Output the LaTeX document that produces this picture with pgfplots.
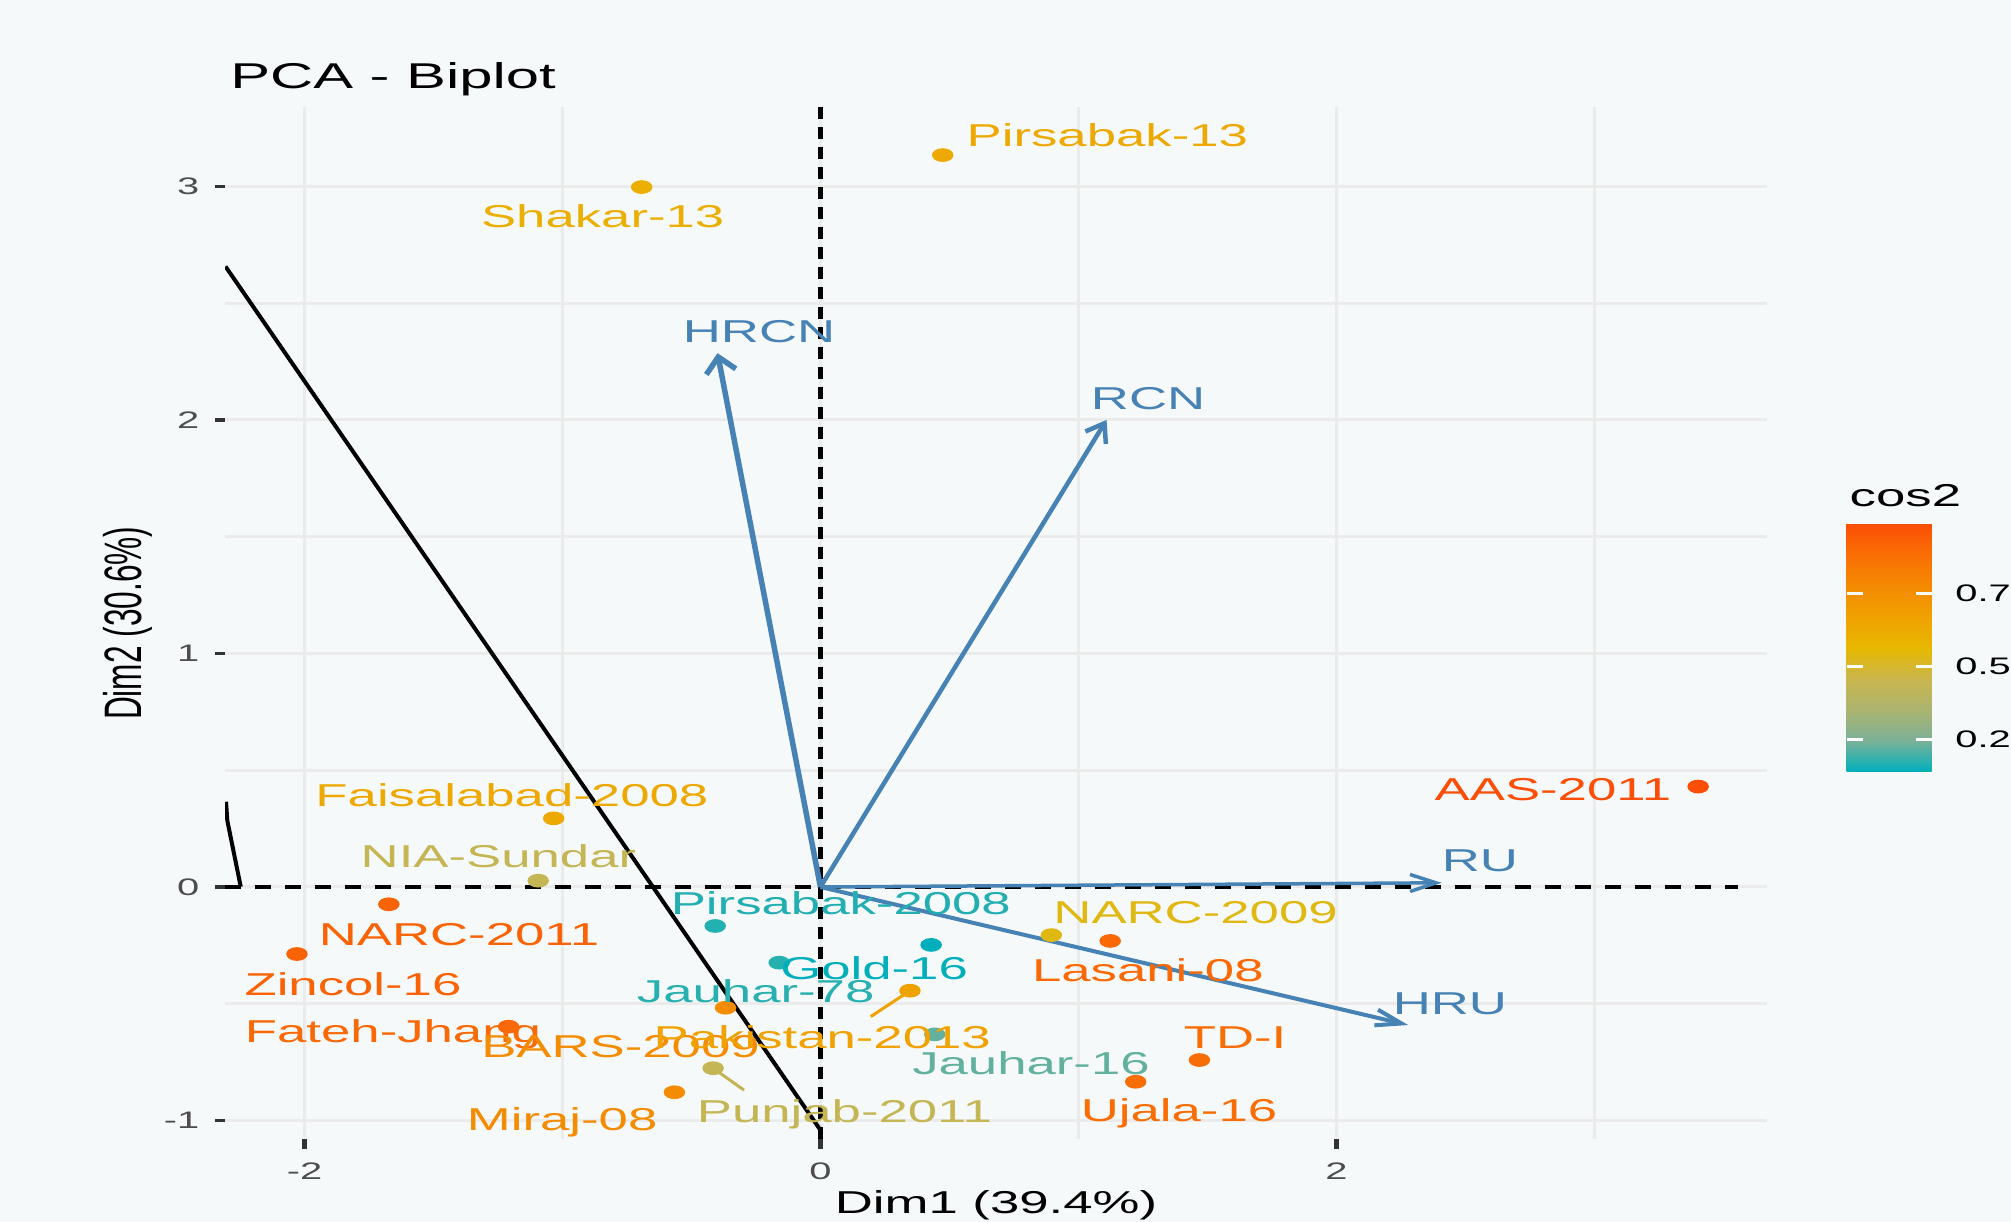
\documentclass[border=0pt]{standalone}
\usepackage{pgfplots}
\pgfplotsset{compat=1.18}
\usepackage{pgfplotstable}
\usepackage{fontspec}
\setmainfont{Liberation Sans}[FakeStretch=1.667]
\newfontfamily\ylabfont{Liberation Sans}[FakeStretch=0.6]
\usetikzlibrary{arrows.meta}
\definecolor{bgcol}{RGB}{246,249,250}
\definecolor{gridcol}{RGB}{235,235,235}
\definecolor{tickcol}{RGB}{51,51,51}
\definecolor{ticklab}{RGB}{77,77,77}
\definecolor{arrowcol}{RGB}{70,130,180}
\definecolor{pakcol}{RGB}{240,162,1}
\definecolor{punjcol}{RGB}{196,181,84}
\newcommand\labfont{\fontsize{9pt}{10pt}\selectfont}
\newcommand\titlefont{\fontsize{10.2pt}{12pt}\selectfont}
\newcommand\axtitlefont{\fontsize{9pt}{10pt}\selectfont}
\newcommand\ticklabfont{\fontsize{6.8pt}{8pt}\selectfont}

% x, y: individual coordinates; lx, ly: label position; c: cos2; cm: cos2 rescaled to 0..1000
\pgfplotstableread{
x y lx ly c cm name
0.474 3.134 1.112 3.221 0.631 580.2 Pirsabak-13
-0.693 2.997 -0.844 2.872 0.605 549.5 Shakar-13
-1.034 0.294 -1.196 0.391 0.631 580.2 Faisalabad-2008
-1.094 0.027 -1.248 0.130 0.436 350.2 NIA-Sundar
-1.673 -0.074 -1.401 -0.202 0.919 919.8 NARC-2011
-2.029 -0.287 -1.812 -0.415 0.919 919.8 Zincol-16
-1.209 -0.598 -1.657 -0.616 0.902 899.8 Fateh-Jhang
-0.368 -0.517 -0.775 -0.680 0.767 740.6 BARS-2009
-0.566 -0.879 -1.001 -0.994 0.767 740.6 Miraj-08
-0.416 -0.776 0.093 -0.958 0.436 350.2 Punjab-2011
-0.408 -0.167 0.079 -0.069 0.169 35.4 Pirsabak-2008
-0.160 -0.324 -0.251 -0.447 0.173 40.1 Jauhar-78
0.429 -0.248 0.208 -0.347 0.139 0.0 Gold-16
0.347 -0.444 0.007 -0.645 0.665 620.3 Pakistan-2013
0.443 -0.631 0.816 -0.755 0.224 100.2 Jauhar-16
0.895 -0.206 1.454 -0.106 0.538 470.5 NARC-2009
1.123 -0.231 1.269 -0.355 0.902 899.8 Lasani-08
1.469 -0.741 1.607 -0.641 0.885 879.7 TD-I
1.222 -0.834 1.390 -0.957 0.885 879.7 Ujala-16
3.402 0.430 2.839 0.420 0.987 1000.0 AAS-2011
}\genotypes

\begin{document}
\begin{tikzpicture}
\fill[bgcol] (0,0) rectangle (20.11,12.22);
\begin{axis}[
  at={(2.25cm,0.83cm)}, anchor=south west,
  scale only axis, width=15.42cm, height=10.32cm,
  xmin=-2.308, xmax=3.669, ymin=-1.079, ymax=3.340,
  axis line style={draw=none},
  tick pos=left, tick align=outside,
  major tick length=0.1cm, minor tick length=0pt,
  xtick={-2,0,2}, xticklabels={-2,0,2},
  ytick={-1,0,1,2,3}, yticklabels={-1,0,1,2,3},
  minor xtick={-1,1,3}, minor ytick={-0.5,0.5,1.5,2.5},
  grid=both,
  major grid style={gridcol, line width=0.03cm},
  minor grid style={gridcol, line width=0.03cm},
  xtick style={tickcol, line width=0.05cm},
  ytick style={tickcol, line width=0.033cm},
  xticklabel style={font=\ticklabfont, text=ticklab, inner sep=0pt, anchor=north, yshift=-0.127cm},
  yticklabel style={font=\ticklabfont, text=ticklab, inner sep=0pt, anchor=east, xshift=-0.15cm},
  colormap={pcacos}{rgb255(0cm)=(0,175,187); rgb255(1cm)=(123,177,152); rgb255(2cm)=(171,180,112); rgb255(3cm)=(202,182,77); rgb255(4cm)=(231,184,0); rgb255(5cm)=(240,161,1); rgb255(6cm)=(244,138,2); rgb255(7cm)=(249,111,4); rgb255(8cm)=(252,78,7)},
  point meta min=0.139, point meta max=0.987,
  colorbar,
  colorbar/width=0.85cm,
  colorbar style={
    at={(parent axis.south east)}, anchor=south west,
    xshift=0.497cm, yshift=3.673cm,
    scale only axis, width=0.85cm, height=2.477cm,
    axis line style={draw=none},
    grid=none,
    ytick={0.25,0.5,0.75}, yticklabels={0.25,0.50,0.75},
    minor ytick={},
    ytick pos=both, yticklabel pos=right,
    tick align=inside, major tick length=0.16cm,
    ytick style={white, line width=0.033cm},
    yticklabel style={font=\ticklabfont, text=black, inner sep=0pt, anchor=west, xshift=0.23cm},
  },
]
% individuals
\addplot[scatter, only marks, mark=*, mark size=1.75pt, mark options={xscale=1.63},
  scatter/use mapped color={draw=mapped color, fill=mapped color},
  point meta=\thisrow{c}] table[x=x, y=y]{\genotypes};
% labels of individuals
\addplot[only marks, mark=none, point meta=explicit symbolic,
  visualization depends on={\thisrow{cm}\as\cmv},
  nodes near coords,
  every node near coord/.append style={font=\labfont, anchor=base, inner sep=0pt, yshift=-3.22pt,
    /utils/exec={\pgfplotscolormapdefinemappedcolor{\cmv}},
    text=mapped color}]
  table[x=lx, y=ly, meta=name]{\genotypes};
% repel segments
\addplot[pakcol, line width=0.03cm] coordinates {(0.195,-0.555) (0.347,-0.444)};
\addplot[punjcol, line width=0.03cm] coordinates {(-0.416,-0.776) (-0.296,-0.870)};
% reference lines
\addplot[black, line width=0.033cm, dash pattern=on 0.16cm off 0.14cm] coordinates {(-2.308,0) (3.556,0)};
\addplot[black, line width=0.05cm, dash pattern=on 0.117cm off 0.083cm] coordinates {(0,3.340) (0,-1.079)};
% variable arrows
\addplot[arrowcol, line width=0.055cm, -{Straight Barb[length=0.15cm,width=0.30cm]}] coordinates {(0,0) (-0.399,2.286)};
\addplot[arrowcol, line width=0.045cm, -{Straight Barb[length=0.17cm,width=0.24cm]}] coordinates {(0,0) (1.109,2.000)};
\addplot[arrowcol, line width=0.035cm, -{Straight Barb[length=0.26cm,width=0.17cm]}] coordinates {(0,0) (2.408,0.018)};
\addplot[arrowcol, line width=0.04cm, -{Straight Barb[length=0.26cm,width=0.16cm]}] coordinates {(0,0) (2.278,-0.591)};
\node[font=\labfont, text=arrowcol, anchor=base, inner sep=0pt, yshift=-3.22pt] at (axis cs:-0.238,2.381) {HRCN};
\node[font=\labfont, text=arrowcol, anchor=base, inner sep=0pt, yshift=-3.22pt] at (axis cs:1.270,2.093) {RCN};
\node[font=\labfont, text=arrowcol, anchor=base, inner sep=0pt, yshift=-3.22pt] at (axis cs:2.556,0.116) {RU};
\node[font=\labfont, text=arrowcol, anchor=base, inner sep=0pt, yshift=-3.22pt] at (axis cs:2.440,-0.498) {HRU};
% black lines
\addplot[black, line width=0.04cm] coordinates {(-2.306,2.657) (0.0,-1.041)};
\addplot[black, line width=0.04cm] coordinates {(-2.304,0.365) (-2.299,0.284) (-2.247,0.001)};
\end{axis}
\node[anchor=base west, inner sep=0pt, font=\titlefont] at (2.296,11.337) {PCA - Biplot};
\node[anchor=base, inner sep=0pt, font=\axtitlefont] at (9.96,0.087) {Dim1 (39.4\%)};
\node[anchor=base, inner sep=0pt, rotate=90, font=\ylabfont\fontsize{15pt}{18pt}\selectfont] at (1.417,5.987) {Dim2 (30.6\%)};
\node[anchor=base west, inner sep=0pt, font=\labfont] at (18.49,7.153) {cos2};
\pgfresetboundingbox
\useasboundingbox (0,0) rectangle (20.11,12.22);
\end{tikzpicture}
\end{document}
